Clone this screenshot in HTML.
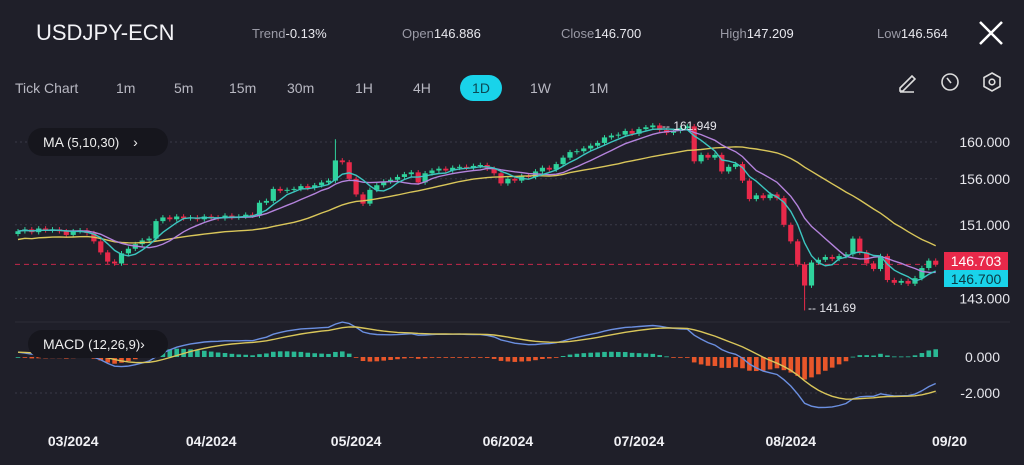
<!DOCTYPE html>
<html><head><meta charset="utf-8"><style>
body{margin:0;width:1024px;height:465px;background:#1f1f29;overflow:hidden;font-family:"Liberation Sans",sans-serif;color:#fff;position:relative}
.a{position:absolute;white-space:nowrap}
.hl{font-size:13px;color:#9a9aa6}.hl b{color:#e8e8ee;font-weight:normal}
.tab{position:absolute;top:80px;font-size:14px;color:#b8b8c2}
</style></head><body>
<div class="a" style="left:36px;top:20px;font-size:22px;color:#f2f2f6">USDJPY-ECN</div>
<div class="a hl" style="left:252px;top:26px">Trend<b>-0.13%</b></div>
<div class="a hl" style="left:402px;top:26px">Open<b>146.886</b></div>
<div class="a hl" style="left:561px;top:26px">Close<b>146.700</b></div>
<div class="a hl" style="left:720px;top:26px">High<b>147.209</b></div>
<div class="a hl" style="left:877px;top:26px">Low<b>146.564</b></div>
<div class="a" style="left:976px;top:18px;width:30px;height:30px"><svg width="30" height="30"><path d="M4 4L26 26M26 4L4 26" stroke="#fff" stroke-width="2.5"/></svg></div>
<div class="tab" style="left:15px">Tick Chart</div>
<div class="tab" style="left:116px">1m</div>
<div class="tab" style="left:174px">5m</div>
<div class="tab" style="left:229px">15m</div>
<div class="tab" style="left:287px">30m</div>
<div class="tab" style="left:355px">1H</div>
<div class="tab" style="left:413px">4H</div>
<div class="a" style="left:460px;top:75px;width:42px;height:26px;border-radius:13px;background:#19d3ea;color:#0b4a55;font-size:14px;text-align:center;line-height:26px">1D</div>
<div class="tab" style="left:530px">1W</div>
<div class="tab" style="left:589px">1M</div>
<svg class="a" style="left:895px;top:68px" width="120" height="26">
<g fill="none" stroke="#ddd" stroke-width="1.6"><path d="M5 20L17 8l3 3L8 23H5z M5 24h14"/></g>
<g fill="none" stroke="#ddd" stroke-width="1.6"><circle cx="55" cy="14" r="8"/><path d="M52 10l4 5"/></g>
<g fill="none" stroke="#ddd" stroke-width="1.6"><path d="M97 5l8 4.5v9L97 23l-8-4.5v-9z"/><circle cx="97" cy="14" r="2.8"/></g>
</svg>
<svg id="ch" class="a" style="left:0;top:0" width="1024" height="465"></svg>
<div class="a" style="left:28px;top:128px;width:140px;height:28px;border-radius:14px;background:#16161d;font-size:14px;line-height:28px;color:#eee"><span style="margin-left:15px">MA</span> <span style="font-size:13px">(5,10,30)</span><span style="margin-left:14px">&#8250;</span></div>
<div class="a" style="left:28px;top:330px;width:140px;height:28px;border-radius:14px;background:#16161d;font-size:14px;line-height:28px;color:#eee"><span style="margin-left:15px">MACD</span> <span style="font-size:13px">(12,26,9)</span>&#8250;</div>
<script>
const closes=[150.3,150.5,150.2,150.6,150.4,150.5,150.3,149.9,150.3,150.4,150.1,149.2,148.0,147.0,146.8,147.9,148.4,148.9,149.3,149.5,151.4,151.8,151.6,151.9,151.7,151.8,151.6,151.9,151.8,151.7,152.0,151.8,151.9,152.1,152.0,153.4,153.6,154.9,154.7,154.8,154.9,155.2,155.0,155.3,155.6,155.8,158.0,157.8,156.0,154.3,153.3,154.8,155.3,155.7,155.9,156.2,156.5,156.7,155.6,156.6,156.9,157.1,156.9,157.2,157.3,157.2,157.4,157.5,157.1,156.6,155.5,156.0,155.8,156.3,156.2,156.8,157.2,157.0,157.6,158.3,158.9,159.0,159.3,159.6,159.9,160.5,160.7,160.8,161.2,160.9,161.4,161.6,161.8,161.3,161.0,161.2,161.5,161.7,157.9,158.6,158.3,158.6,156.8,157.3,157.6,155.8,153.8,154.2,153.9,154.3,153.9,151.0,149.2,146.7,144.4,146.9,147.2,147.5,147.3,147.6,147.8,149.5,148.0,146.8,146.2,147.6,145.0,144.7,144.9,144.6,145.2,146.3,147.1,146.7];
const firstOpen=150.0;
const spikeIdx=[46,93,114];
const spikeVal=[160.3,161.949,141.69];
const priceTicks=[160,156,151,143];
const priceTickLabels=["160.000","156.000","151.000","143.000"];
const macdTicks=[0,-2];
const macdTickLabels=["0.000","-2.000"];
const months=["03/2024","04/2024","05/2024","06/2024","07/2024","08/2024","09/20"];
const monthIdx=[8,28,49,71,90,112,135];
const lastPrice=146.703, closePrice=146.700;

const svg=document.getElementById('ch');const NS='http://www.w3.org/2000/svg';
function mk(t,a,name){const e=document.createElementNS(NS,t);for(const k in a)e.setAttribute(k,a[k]);


svg.appendChild(e);return e;}
const X=i=>18+i*6.9;
const Y=p=>142+(160-p)*9.2;
const MY=v=>357-v*18;
// grid
[142,177,221,297].forEach((g,k)=>{});
priceTicks.forEach((p,k)=>{mk('line',{x1:15,x2:940,y1:Y(p),y2:Y(p),stroke:'#3a3a48','stroke-dasharray':'2 3'},'price-gridline');
const t=mk('text',{x:1010,y:Y(p)+5,fill:'#e6e6ec','font-size':14,'text-anchor':'end'},'price-tick-label');t.textContent=priceTickLabels[k];});
mk('line',{x1:15,x2:940,y1:MY(-2),y2:MY(-2),stroke:'#3a3a48','stroke-dasharray':'2 3'},'macd-gridline');
mk('line',{x1:15,x2:1010,y1:322,y2:322,stroke:'#2c2c38'},'pane-divider');
macdTicks.forEach((v,k)=>{const t=mk('text',{x:1000,y:MY(v)+5,fill:'#e6e6ec','font-size':14,'text-anchor':'end'},'macd-tick-label');t.textContent=macdTickLabels[k];});
mk('line',{x1:15,x2:942,y1:Y(lastPrice),y2:Y(lastPrice),stroke:'#c2284a','stroke-dasharray':'5 4'},'last-price-line');
// candles
let prev=firstOpen;
closes.forEach((c,i)=>{const o=prev;prev=c;const up=c>=o;const col=up?'#2fd39c':'#e8294a';
let hi=Math.max(o,c)+0.25,lo=Math.min(o,c)-0.25;const s=spikeIdx.indexOf(i);
if(s>=0){if(spikeVal[s]>hi)hi=spikeVal[s];if(spikeVal[s]<lo)lo=spikeVal[s];}
mk('line',{x1:X(i),x2:X(i),y1:Y(hi),y2:Y(lo),stroke:col,'stroke-width':1},'candle-wick');
const y1=Y(Math.max(o,c)),y2=Y(Math.min(o,c));
mk('rect',{x:X(i)-2.6,y:y1,width:5.2,height:Math.max(1,y2-y1),fill:col},'candle-body');});
// MAs
function ma(n){return closes.map((c,i)=>{const s=closes.slice(Math.max(0,i-n+1),i+1);return s.reduce((a,b)=>a+b,0)/s.length;});}
function line(arr,fy,col,name){mk('path',{d:arr.map((v,i)=>(i?'L':'M')+X(i).toFixed(1)+' '+fy(v).toFixed(1)).join(''),fill:'none',stroke:col,'stroke-width':1.4},name);}
const ma30=ma(30).map((v,i)=>i<30?v-0.9+i*0.03:v);
line(ma30,Y,'#d9c65a','ma30-line');line(ma(10),Y,'#b483dc','ma10-line');line(ma(5),Y,'#3cc6c0','ma5-line');
// labels
let t=mk('text',{x:662,y:130,fill:'#e6e6ec','font-size':12},'high-marker-label');t.textContent='-- 161.949';
t=mk('text',{x:808,y:312,fill:'#e6e6ec','font-size':12},'low-marker-label');t.textContent='-- 141.69';
mk('rect',{x:944,y:252,width:64,height:18,fill:'#e8294a'},'last-price-badge');
t=mk('text',{x:976,y:266,fill:'#fff','font-size':14,'text-anchor':'middle'},'last-price-text');t.textContent=lastPrice.toFixed(3);
mk('rect',{x:944,y:270,width:64,height:17,fill:'#19d3ea'},'close-price-badge');
t=mk('text',{x:976,y:284,fill:'#0b3a44','font-size':14,'text-anchor':'middle'},'close-price-text');t.textContent=closePrice.toFixed(3);
// MACD
function ema(a,n){const k=2/(n+1);let e=a[0];return a.map(v=>e=v*k+e*(1-k));}
const base=[151.5,151.3,151.0];const ext=base.concat(closes);
const dif=ema(ext,12).map((v,i)=>v-ema(ext,26)[i]).slice(3).map(v=>v+0.4);
const dea=ema(dif,9);
dif.forEach((v,i)=>{const h=v-dea[i];const y=MY(Math.max(h,0)),y2=MY(Math.min(h,0));
mk('rect',{x:X(i)-2.3,y:y,width:4.6,height:Math.max(0.8,y2-y),fill:h>=0?'#2ab894':'#e8562a'},'macd-histogram-bar');});
line(dif,MY,'#6b8fe0','macd-dif-line');line(dea,MY,'#d9c65a','macd-signal-line');
months.forEach((m,k)=>{const t=mk('text',{x:X(monthIdx[k]),y:446,fill:'#f0f0f4','font-size':14,'font-weight':'bold','text-anchor':'middle'},'x-axis-month-label');t.textContent=m;});
</script>
</body></html>
